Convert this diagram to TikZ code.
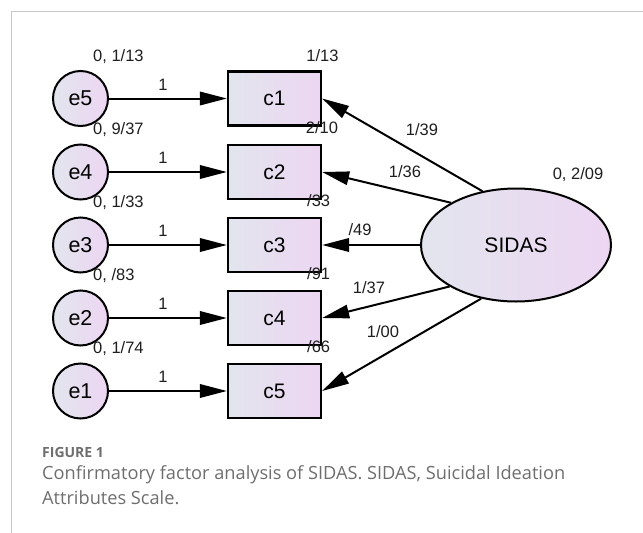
\documentclass[tikz,border=0pt]{standalone}
\usepackage{fontspec}
\setmainfont{Liberation Sans}
\newfontfamily\capfont{Open Sans}
\usetikzlibrary{arrows.meta,shapes.geometric}
\definecolor{fillL}{HTML}{E2E5EE}
\definecolor{fillR}{HTML}{EDD6F2}
\definecolor{framegray}{HTML}{C8C8C8}
\definecolor{capgray}{HTML}{6E6E6E}
\definecolor{lbl}{HTML}{1E1E1E}
\tikzset{
  obs/.style={rectangle, draw, line width=2.3pt, minimum width=93pt, minimum height=54pt,
    left color=fillL, right color=fillR, font=\fontsize{21}{24}\selectfont, inner sep=0pt},
  errc/.style={circle, draw, line width=2pt, minimum size=55pt,
    left color=fillL, right color=fillR, font=\fontsize{21.5}{24}\selectfont, inner sep=0pt},
  lat/.style={ellipse, draw, line width=2pt, minimum width=190pt, minimum height=113pt,
    left color=fillL, right color=fillR, font=\fontsize{21}{24}\selectfont, inner sep=0pt},
  reg/.style={line width=2pt, -{Triangle[length=27pt,width=13.5pt]}},
  lab/.style={font=\fontsize{16.5}{18}\selectfont, text=lbl, inner sep=0pt},
  framel/.style={draw=framegray, line width=1.5pt},
  captext/.style={font=\capfont\fontsize{18.2}{22}\selectfont, text=capgray, inner sep=0pt, anchor=west},
}
\begin{document}
\begin{tikzpicture}[x=1pt,y=-1pt]
\useasboundingbox (0,0) rectangle (643,533);
% frame
\coordinate (fa) at (643,11.5);
\coordinate (fb) at (11.5,11.5);
\coordinate (fc) at (11.5,533);
\draw[framel] (fa) -- (fb) -- (fc);

% error terms
\node[errc] (e5) at (80.5,98.5) {e5};
\node[errc] (e4) at (80.5,172) {e4};
\node[errc] (e3) at (80.5,245) {e3};
\node[errc] (e2) at (80.5,318) {e2};
\node[errc] (e1) at (80.5,391) {e1};

% observed
\node[obs] (c1) at (274.5,98.5) {c1};
\node[obs] (c2) at (274.5,172) {c2};
\node[obs] (c3) at (274.5,245) {c3};
\node[obs] (c4) at (274.5,318) {c4};
\node[obs] (c5) at (274.5,391) {c5};

% latent
\node[lat] (S) at (516,245) {SIDAS};

% error paths
\foreach \e/\c in {e5/c1,e4/c2,e3/c3,e2/c4,e1/c5} {
  \draw[reg] (\e) -- (\c);
}
% loadings
\draw[reg] (S.122.5) -- (c1.east);
\draw[reg] (S.147.5) -- (c2.east);
\draw[reg] (S.180) -- (c3.east);
\draw[reg] (S.212.5) -- (c4.east);
\draw[reg] (S.237.5) -- (c5.east);

% variance labels of errors
\node[lab, anchor=west] (v5) at (93,57) {0, 1/13};
\node[lab, anchor=west] (v4) at (93,130) {0, 9/37};
\node[lab, anchor=west] (v3) at (93,203) {0, 1/33};
\node[lab, anchor=west] (v2) at (93,276) {0, /83};
\node[lab, anchor=west] (v1) at (93,349) {0, 1/74};

% fixed loadings
\node[lab] (w5) at (163,85) {1};
\node[lab] (w4) at (163,158) {1};
\node[lab] (w3) at (163,231) {1};
\node[lab] (w2) at (163,304) {1};
\node[lab] (w1) at (163,377) {1};

% intercepts / R2
\node[lab] (r1) at (322.5,56) {1/13};
\node[lab] (r2) at (322,128) {2/10};
\node[lab, anchor=west] (r3) at (307,201) {/33};
\node[lab, anchor=west] (r4) at (307,274) {/91};
\node[lab, anchor=west] (r5) at (307,347) {/66};

% loadings labels
\node[lab] (l1) at (422,130) {1/39};
\node[lab] (l2) at (405,172) {1/36};
\node[lab] (l3) at (360,230) {/49};
\node[lab] (l4) at (369,288) {1/37};
\node[lab] (l5) at (383,332) {1/00};
\node[lab] (sv) at (578,175) {0, 2/09};

% caption
\node[captext, font=\capfont\bfseries\fontsize{14}{16}\selectfont] (cap0) at (42,452) {FIGURE 1};
\node[captext] (cap1) at (42,475) {Confirmatory factor analysis of SIDAS. SIDAS, Suicidal Ideation};
\node[captext] (cap2) at (42,498) {Attributes Scale.};
\end{tikzpicture}
\end{document}
